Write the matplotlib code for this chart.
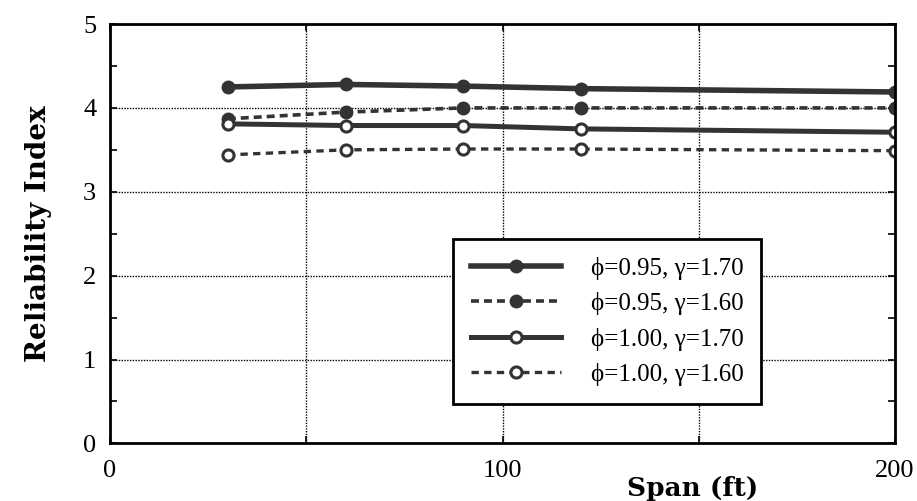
import matplotlib
matplotlib.use("Agg")
import matplotlib.pyplot as plt
from matplotlib.ticker import MultipleLocator

# span lengths (ft) and reliability index for each load/resistance factor pair
span = [30, 60, 90, 120, 200]
beta_095_170 = [4.25, 4.28, 4.26, 4.23, 4.19]
beta_095_160 = [3.87, 3.95, 4.00, 4.00, 4.00]
beta_100_170 = [3.81, 3.79, 3.79, 3.75, 3.71]
beta_100_160 = [3.44, 3.50, 3.51, 3.51, 3.49]
labels = [
    "\u03d5=0.95, \u03b3=1.70",
    "\u03d5=0.95, \u03b3=1.60",
    "\u03d5=1.00, \u03b3=1.70",
    "\u03d5=1.00, \u03b3=1.60",
]

plt.rcParams["font.family"] = ["Liberation Serif", "DejaVu Serif"]
ink = "#333333"

fig = plt.figure(figsize=(9.17, 5.01), dpi=100)
ax = fig.add_axes([0.12, 0.115, 0.856, 0.837])

ax.plot(span, beta_095_170, "-", color=ink, lw=4.0, marker="o", ms=9,
        mfc=ink, mec=ink, label=labels[0])
ax.plot(span, beta_095_160, "--", color=ink, lw=2.6, marker="o", ms=9,
        mfc=ink, mec=ink, dashes=(2.2, 1.4), label=labels[1])
ax.plot(span, beta_100_170, "-", color=ink, lw=3.6, marker="o", ms=8,
        mfc="white", mec=ink, mew=2.2, label=labels[2])
ax.plot(span, beta_100_160, "--", color=ink, lw=2.4, marker="o", ms=8,
        mfc="white", mec=ink, mew=2.2, dashes=(2.2, 1.6), label=labels[3])

ax.set_xlim(0, 200)
ax.set_ylim(0, 5)
ax.yaxis.set_major_locator(MultipleLocator(1))
ax.yaxis.set_minor_locator(MultipleLocator(0.5))
ax.set_xticks([0, 50, 100, 150, 200])
ax.set_xticklabels(["0", "", "100", "", "200"])
ax.grid(True, which="major", color="black", ls=(0, (1, 1)), lw=1.0)
ax.tick_params(which="both", direction="in", right=True, top=True,
               labelsize=19, length=5, width=1.2, pad=10)
ax.tick_params(axis="x", pad=12)
for s in ax.spines.values():
    s.set_linewidth(2.0)

ax.set_ylabel("Reliability Index", family="DejaVu Serif", fontweight="bold",
              fontsize=20, labelpad=22)
fig.text(0.755, 0.025, "Span (ft)", family="DejaVu Serif", fontweight="bold",
         fontsize=19, ha="center", va="center")

leg = ax.legend(loc="upper left", bbox_to_anchor=(0.437, 0.487),
                fontsize=18, handlelength=3.6, handletextpad=1.2,
                labelspacing=0.5, borderpad=0.7, borderaxespad=0,
                fancybox=False, framealpha=1, edgecolor="black")
leg.get_frame().set_linewidth(2.0)

fig.savefig("out.png", dpi=100)
